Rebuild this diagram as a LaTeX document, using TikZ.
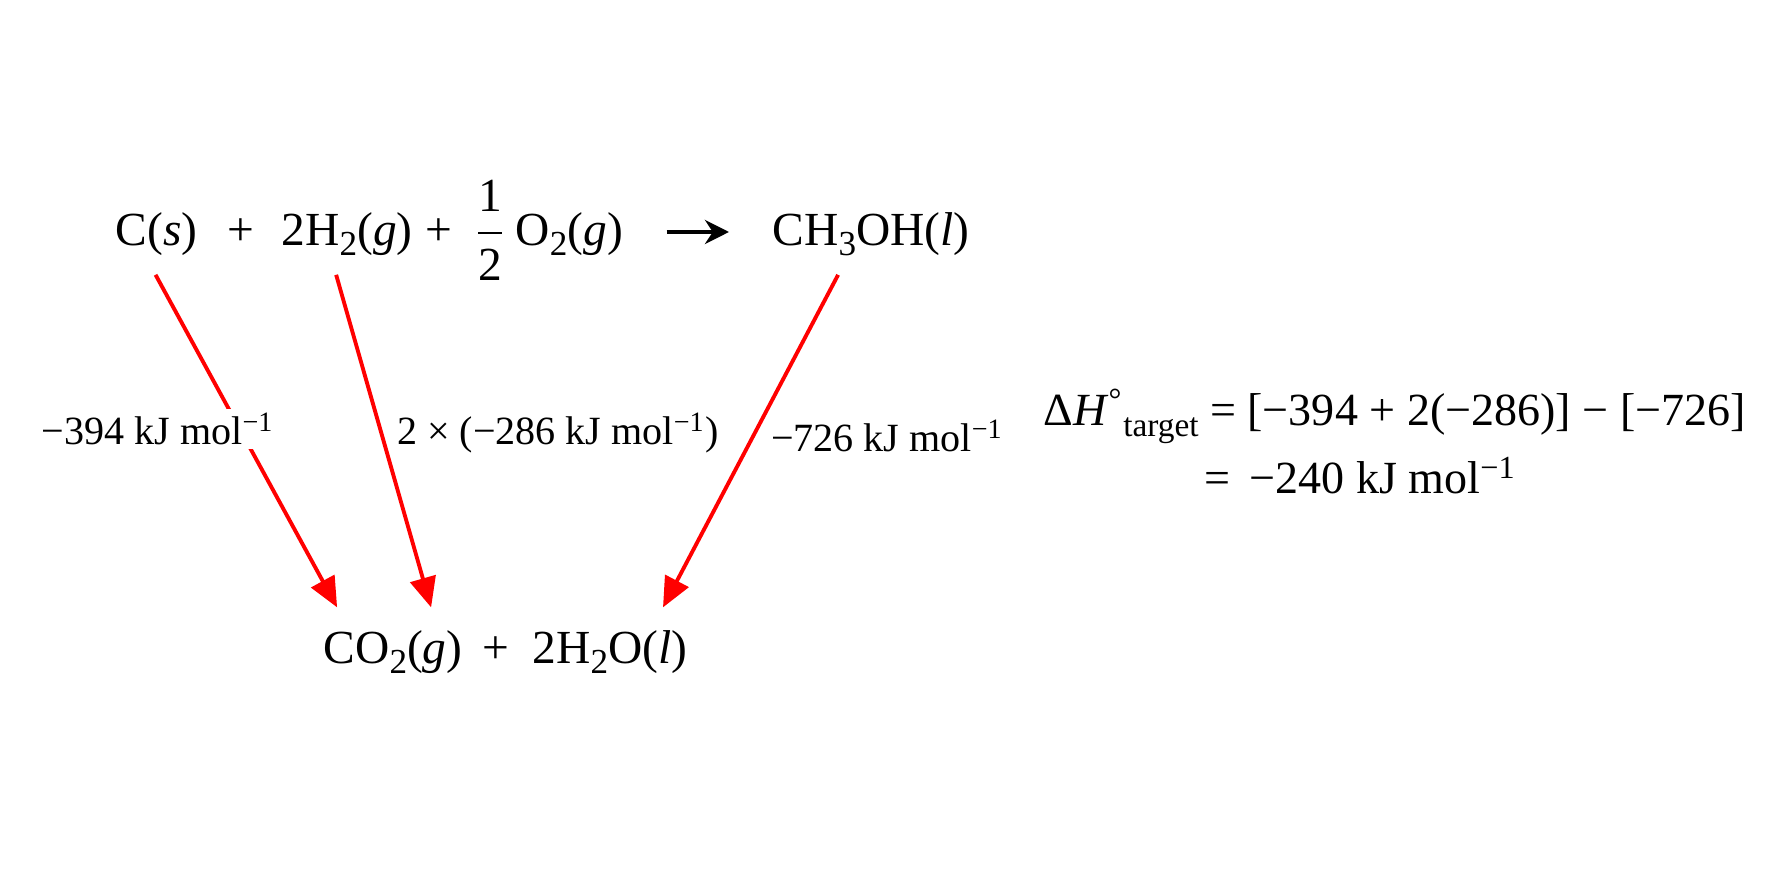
\documentclass[tikz,border=0pt]{standalone}
\usepackage{amsmath}
\usepackage{fontspec}
\setmainfont{Liberation Serif}
\usepackage{tikz}
\usetikzlibrary{positioning}
\usetikzlibrary{arrows.meta}
\newcommand{\chsub}[1]{\raisebox{-0.45ex}{\fontsize{10}{12}\selectfont #1}}

\begin{document}
\begin{tikzpicture}[
  chem/.style={inner sep=0pt,anchor=base west,font=\fontsize{13.5}{16}\selectfont},
  lbl/.style={inner sep=1pt,fill=white,font=\fontsize{11.4}{13}\selectfont},
  calc/.style={inner sep=0pt,anchor=base west,font=\fontsize{13.1}{16}\selectfont},
  redarrow/.style={draw=red,line width=1.1pt,-{Triangle[length=0.3cm,width=0.26cm]}}
]
\useasboundingbox (0,0) rectangle (17.74,-8.87);

% reactants and product
\node[chem] (cs) at (1.15,-2.46) {C(\textit{s})};
\node[chem,anchor=base] (p1) at (2.41,-2.46) {+};
\node[chem] (h2) at (2.81,-2.46) {2H\chsub{2}(\textit{g})};
\node[chem,anchor=base] (p2) at (4.39,-2.46) {+};
\node[chem,anchor=base] (half) at (4.90,-2.46) {$\dfrac{\text{1}}{\text{2}}$};
\node[chem] (o2) at (5.15,-2.46) {O\chsub{2}(\textit{g})};
\node[chem] (ch3oh) at (7.72,-2.46) {CH\chsub{3}OH(\textit{l})};
\draw[line width=1.2pt,-{Stealth[length=0.24cm,width=0.24cm]}] ([xshift=0.43cm,yshift=0.14cm]o2.base east) -- ([xshift=-0.43cm,yshift=0.14cm]ch3oh.base west);

% combustion products
\node[chem] (co2) at (3.23,-6.64) {CO\chsub{2}(\textit{g})};
\node[chem,anchor=base] (p3) at (4.96,-6.64) {+};
\node[chem] (h2o) at (5.32,-6.64) {2H\chsub{2}O(\textit{l})};

% combustion arrows
\draw[redarrow] ([xshift=-0.01cm,yshift=-0.18cm]cs.south) -- ([xshift=-0.56cm,yshift=0.23cm]co2.north);
\draw[redarrow] ([xshift=-0.11cm,yshift=-0.18cm]h2.south) -- ([xshift=0.38cm,yshift=0.23cm]co2.north);
\draw[redarrow] ([xshift=-0.33cm,yshift=-0.18cm]ch3oh.south) -- ([xshift=0.53cm,yshift=0.23cm]h2o.north);

\node[lbl,anchor=base] (l1) at (1.58,-4.45) {−394 kJ mol\textsuperscript{−1}};
\node[lbl,anchor=base west] (l2) at (3.93,-4.45) {2 × (−286 kJ mol\textsuperscript{−1})};
\node[lbl,anchor=base west] (l3) at (7.67,-4.52) {−726 kJ mol\textsuperscript{−1}};

% Hess's law
\node[calc] (dh1) at (10.43,-4.26) {Δ\textit{H}\textsuperscript{°}\raisebox{-0.5ex}{\fontsize{9.5}{11}\selectfont target} = [−394 + 2(−286)] − [−726]};
\node[calc] (dh2) at (12.04,-4.94) {= \,−240 kJ mol\textsuperscript{−1}};

\end{tikzpicture}
\end{document}
